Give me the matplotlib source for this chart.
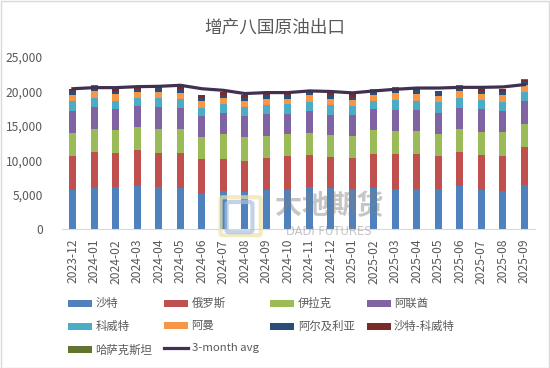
import matplotlib
matplotlib.use("Agg")
import matplotlib.pyplot as plt
import numpy as np
from matplotlib.patches import Rectangle, FancyBboxPatch

plt.rcParams['font.family'] = ['Noto Sans CJK SC', 'DejaVu Sans']

months = ["2023-12", "2024-01", "2024-02", "2024-03", "2024-04", "2024-05", "2024-06",
          "2024-07", "2024-08", "2024-09", "2024-10", "2024-11", "2024-12", "2025-01",
          "2025-02", "2025-03", "2025-04", "2025-05", "2025-06", "2025-07", "2025-08", "2025-09"]

saudi = [5650, 6030, 6180, 6320, 6080, 6030, 5120, 5550, 5450, 5650, 5700, 6080, 5940, 5800,
         6000, 5800, 5800, 5800, 6270, 5700, 5600, 6420]
russia = [5020, 5170, 4870, 5170, 5020, 5070, 5010, 4680, 4490, 4680, 4920, 4680, 4480, 4530,
          4950, 5150, 5150, 4870, 4930, 5100, 5100, 5500]
iraq = [3370, 3400, 3330, 3370, 3520, 3520, 3270, 3570, 3460, 3170, 3180, 3240, 3280, 3270,
        3430, 3250, 3250, 3230, 3300, 3350, 3400, 3430]
uae = [3060, 3160, 3090, 3040, 3080, 2980, 3000, 3140, 3100, 3200, 3000, 3130, 2900, 3000,
       3040, 3080, 3080, 3000, 3100, 3250, 3100, 3280]
kuwait = [1450, 1320, 1210, 1160, 1400, 1300, 1260, 1260, 1200, 1350, 1350, 1310, 1400, 1300,
          1260, 1420, 1350, 1540, 1500, 1330, 1300, 1330]
oman = [1000, 1000, 970, 870, 880, 900, 920, 800, 880, 920, 820, 1010, 970, 830,
        870, 1080, 1060, 860, 980, 890, 960, 940]
algeria = [450, 350, 330, 370, 500, 550, 520, 450, 420, 480, 580, 480, 480, 470,
           380, 470, 550, 600, 450, 400, 480, 480]
neutral = [370, 420, 470, 350, 170, 350, 350, 480, 450, 250, 290, 240, 480, 400,
           340, 230, 200, 150, 300, 350, 350, 340]
kazakh = [50, 100, 50, 50, 50, 50, 50, 50, 50, 50, 50, 50, 50, 50,
          130, 150, 50, 50, 150, 100, 80, 140]
avg3 = [20400, 20560, 20560, 20700, 20750, 20900, 20400, 20170, 19700, 19840, 19840, 20080,
        20000, 19800, 20080, 20320, 20500, 20500, 20600, 20600, 20660, 21000]

series_names = ["沙特", "俄罗斯", "伊拉克", "阿联酋", "科威特", "阿曼", "阿尔及利亚", "沙特-科威特", "哈萨克斯坦"]
series_vals = [saudi, russia, iraq, uae, kuwait, oman, algeria, neutral, kazakh]
colors = ["#4F81BD", "#C0504D", "#9BBB59", "#8064A2", "#4BACC6", "#F79646", "#2C4D75", "#772C2A", "#5F7530"]
line_color = "#403152"

fig = plt.figure(figsize=(5.5, 3.68), dpi=100)
fig.patch.set_facecolor("white")
fig.add_artist(Rectangle((0.001, 0.001), 0.997, 0.997, transform=fig.transFigure,
                         fill=False, edgecolor="#D9D9D9", linewidth=1.0))

ax = fig.add_axes([0.113, 0.377, 0.860, 0.468])
x = np.arange(len(months))
bottom = np.zeros(len(months))
handles = []
for name, vals, c in zip(series_names, series_vals, colors):
    v = np.array(vals, dtype=float)
    b = ax.bar(x, v, bottom=bottom, width=0.33, color=c, label=name, zorder=2)
    bottom += v
    handles.append(b)
ln, = ax.plot(x, avg3, color=line_color, linewidth=2.3, label="3-month avg", zorder=3)

ax.set_xlim(-0.5, len(months) - 0.5)
ax.set_ylim(0, 25000)
ax.set_yticks(np.arange(0, 25001, 5000))
ax.set_yticklabels([f"{v:,}" for v in range(0, 25001, 5000)])
ax.set_xticks(x)
ax.set_xticklabels(months, rotation=90)
for s in ["top", "right", "left"]:
    ax.spines[s].set_visible(False)
ax.spines["bottom"].set_color("#D9D9D9")
ax.tick_params(axis="y", length=0, pad=14, labelsize=8.7, labelcolor="#595959")
ax.tick_params(axis="x", length=0, pad=7, labelsize=8.7, labelcolor="#595959")

fig.text(0.5, 0.926, "增产八国原油出口", ha="center", va="center", fontsize=12.7, color="#595959")

# watermark (logo + company name)
fig.add_artist(FancyBboxPatch((0.405, 0.365), 0.065, 0.095, boxstyle="round,pad=0.004",
                              transform=fig.transFigure, fill=False, edgecolor="#EDE2A6",
                              linewidth=3, alpha=0.7, zorder=9))
fig.add_artist(FancyBboxPatch((0.418, 0.375), 0.035, 0.07, boxstyle="round,pad=0.006",
                              transform=fig.transFigure, fill=False, edgecolor="#A9C0DD",
                              linewidth=3, alpha=0.7, zorder=9))
fig.text(0.598, 0.44, "大地期货", ha="center", va="center", fontsize=19.5, fontweight="bold",
         color="#7F7F7F", alpha=0.45, zorder=10)
fig.text(0.598, 0.372, "DADI FUTURES", ha="center", va="center", fontsize=8.3,
         family="DejaVu Sans", color="#7F7F7F", alpha=0.45, zorder=10)

order = [0, 4, 8, 1, 5, 9, 2, 6, 3, 7]
all_handles = handles + [ln]
all_labels = series_names + ["3-month avg"]
leg = fig.legend(handles=[all_handles[i] for i in order],
                 labels=[all_labels[i] for i in order],
                 ncol=4, loc="upper left", bbox_to_anchor=(0.105, 0.218),
                 frameon=False, fontsize=8.2, handlelength=2.1, handleheight=0.55,
                 handletextpad=0.3, columnspacing=1.05, labelspacing=1.05)
plt.setp(leg.get_texts(), color="#595959")

fig.savefig("out.png", dpi=100)
